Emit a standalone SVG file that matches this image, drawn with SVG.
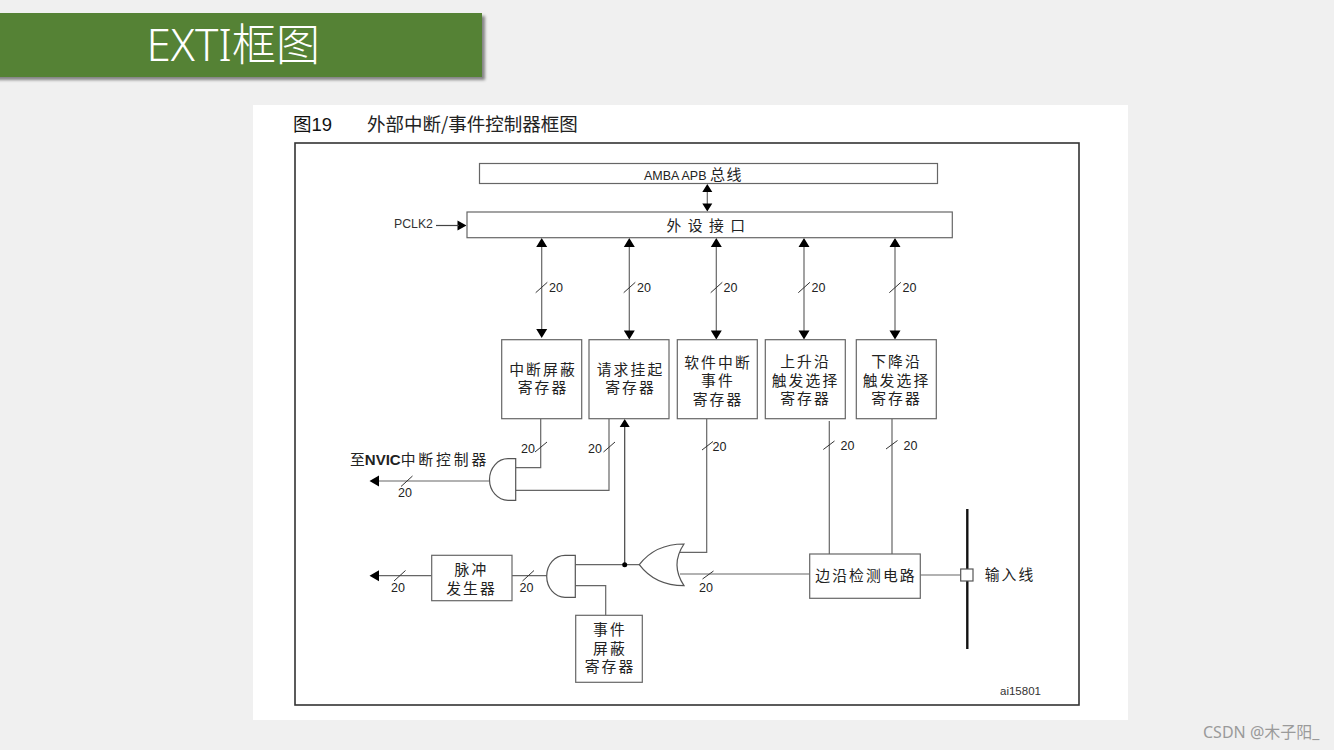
<svg xmlns="http://www.w3.org/2000/svg" width="1334" height="750" viewBox="0 0 1334 750">
<style>
.box{fill:#fff;stroke:#666;stroke-width:1.2}
.ln{fill:none;stroke:#666;stroke-width:1.2}
.dk{fill:none;stroke:#444;stroke-width:1.2}
.tick{fill:none;stroke:#333;stroke-width:1}
.gate{fill:#fff;stroke:#555;stroke-width:1.2}
.ar{fill:#000;stroke:none}
text{font-family:"Liberation Sans","Noto Sans CJK SC",sans-serif;fill:#222}
.cn{font-family:"Noto Sans CJK SC",sans-serif;font-size:14.8px;letter-spacing:2.1px;text-anchor:middle;fill:#222}
.n{font-size:12.5px;fill:#333}
</style>
<defs>
<filter id="sh" x="-5%" y="-20%" width="110%" height="140%"><feDropShadow dx="3" dy="3" stdDeviation="1.8" flood-color="#000" flood-opacity="0.45"/></filter>
</defs>
<rect width="1334" height="750" fill="#f0f0f0"/>
<g id="title">
<rect x="-6" y="13" width="488" height="64" fill="#548235" filter="url(#sh)"/>
<text x="146.500" y="61" style="font-family:'Noto Sans','Noto Sans CJK SC',sans-serif;font-size:44px;font-weight:300;fill:#fff">EXTI框图</text>
</g>
<rect x="253" y="105" width="875" height="615" fill="#fff"/>
<g id="caption">
<text x="293" y="131" style="font-size:18.500px;fill:#111"><tspan style="font-family:'Noto Sans CJK SC',sans-serif">图</tspan>19</text>
<text x="367" y="131" style="font-family:'Noto Sans CJK SC',sans-serif;font-size:18.500px;fill:#222">外部中断/事件控制器框图</text>
</g>
<rect id="frame" x="295" y="143" width="784" height="562" fill="none" stroke="#333" stroke-width="1.6"/>

<g id="connectors">
<path class="ln" d="M707.3 190V205M541.7 246V332M629.3 246V332M716.3 246V332M804 246V332M895 246V332"/>
<path class="ar" d="M707.3 184l5 8h-10zM707.3 211.500l5 -8h-10zM466.500 225.500l-9 -5v10z"/>
<path class="dk" d="M436 225.500H459"/>
<path class="ar" d="M541.700 238l5.500 9h-11zM629.300 238l5.500 9h-11zM716.300 238l5.500 9h-11zM804 238l5.500 9h-11zM895 238l5.500 9h-11z"/>
<path class="ar" d="M541.700 338l-5.500 -9h11zM629.300 339.500l-5.500 -9h11zM716.300 339.500l-5.500 -9h11zM804 339.500l-5.500 -9h11zM895 339.500l-5.500 -9h11z"/>
<path class="ln" d="M540.700 418.700V467.700H516M609 418.700V490.300H516M490 481H378M431.700 575.700H378M512 575.700H547M575.300 564.700H640M575.300 585.700H605.700V615.300M678 552.300H706.700V418.700M680 574H809.700M829.300 421V554M892 419V554M920.300 575H960.300"/>
<path class="dk" d="M624.700 426V564.700"/>
<path class="ar" d="M624.700 419l5 8h-10zM369.500 481l9.500 -5.500v11zM369.500 575.700l9.500 -5.500v11z"/>
<circle class="ar" cx="624.700" cy="564.700" r="2.500"/>
<path d="M967.300 509V649" stroke="#111" stroke-width="2.400" fill="none"/>
<path class="tick" d="M535.700 292.700L547.300 282.300M623.700 292.700L635.300 282.300M710.700 292.700L722.300 282.300M798.300 292.700L809.900 282.300M889.300 292.700L900.900 282.300M535 452L547 442M603.500 452L615 442M702 450L713 441.500M823.300 449.500L834.500 441M886 449L897.500 440.500M401 486.500L412.500 476M394 581L405.500 570.500M522.500 581L534 570.500M702.500 579L713.500 571"/>
<g class="n">
<text x="549" y="291.500">20</text><text x="637" y="291.500">20</text><text x="723.500" y="292">20</text><text x="811.500" y="292">20</text><text x="902.500" y="292">20</text>
<text x="521" y="452.500">20</text><text x="588" y="453">20</text><text x="712.500" y="451">20</text><text x="840.500" y="450">20</text><text x="903.500" y="449.500">20</text>
<text x="398" y="497">20</text><text x="391" y="592">20</text><text x="519.500" y="592">20</text><text x="699" y="592">20</text>
</g>
</g>

<g id="amba-bus"><rect class="box" x="479.500" y="163.500" width="458" height="20"/><text x="644" y="179.500" style="font-size:12.500px;fill:#222">AMBA APB <tspan style="font-family:'Noto Sans CJK SC',sans-serif;font-size:15px;letter-spacing:1.500px">总线</tspan></text></g>
<g id="peripheral-if"><rect class="box" x="467" y="212" width="485.300" height="25.700"/><text class="cn" x="709" y="231" style="letter-spacing:6.500px">外设接口</text></g>
<g id="pclk2"><text x="394" y="228" style="font-size:12.300px;fill:#333">PCLK2</text></g>

<g id="reg-int-mask"><rect class="box" x="501.700" y="339.700" width="80" height="79"/><text class="cn" x="543" y="375">中断屏蔽</text><text class="cn" x="543" y="393">寄存器</text></g>
<g id="reg-pending"><rect class="box" x="589" y="339.700" width="80" height="79"/><text class="cn" x="630.500" y="375">请求挂起</text><text class="cn" x="630.500" y="393">寄存器</text></g>
<g id="reg-sw-event"><rect class="box" x="677.300" y="339.700" width="80" height="79"/><text class="cn" x="718" y="368">软件中断</text><text class="cn" x="718" y="386">事件</text><text class="cn" x="718" y="405">寄存器</text></g>
<g id="reg-rising"><rect class="box" x="765.300" y="339.700" width="80" height="79"/><text class="cn" x="805.500" y="367">上升沿</text><text class="cn" x="805.500" y="386">触发选择</text><text class="cn" x="805.500" y="404">寄存器</text></g>
<g id="reg-falling"><rect class="box" x="856.300" y="339.700" width="80" height="79"/><text class="cn" x="896.500" y="367">下降沿</text><text class="cn" x="896.500" y="386">触发选择</text><text class="cn" x="896.500" y="404">寄存器</text></g>

<g id="to-nvic"><text x="350" y="465" style="font-size:15px;font-weight:bold;fill:#222"><tspan style="font-family:'Noto Sans CJK SC',sans-serif;font-weight:400;font-size:14.800px">至</tspan>NVIC<tspan style="font-family:'Noto Sans CJK SC',sans-serif;font-weight:400;font-size:14.800px;letter-spacing:2.900px">中断控制器</tspan></text></g>
<g id="and-top"><path class="gate" d="M515.700 458.700H508A18.500 20.800 0 0 0 508 500.300H515.700Z"/></g>
<g id="and-bottom"><path class="gate" d="M575.300 555.300H565A18.300 21 0 0 0 565 597.300H575.300Z"/></g>
<g id="or-gate"><path class="gate" d="M684 544Q655 544 639.300 564.700Q655 585.700 684 585.700Q670 564.700 684 544Z"/></g>
<g id="pulse-gen"><rect class="box" x="431.700" y="555.300" width="80.300" height="45.400"/><text class="cn" x="471.500" y="574.500">脉冲</text><text class="cn" x="471.500" y="594">发生器</text></g>
<g id="event-mask"><rect class="box" x="575.700" y="615.300" width="66.600" height="67"/><text class="cn" x="610" y="635">事件</text><text class="cn" x="610" y="653.500">屏蔽</text><text class="cn" x="610" y="672">寄存器</text></g>
<g id="edge-detect"><rect class="box" x="809.700" y="554" width="110.600" height="44.300"/><text class="cn" x="866" y="580.500">边沿检测电路</text></g>
<g id="input-line"><rect x="960.700" y="569" width="12.300" height="12" fill="#fff" stroke="#555" stroke-width="1.200"/><text class="cn" x="1010" y="580">输入线</text></g>
<g id="ref-code"><text x="1000" y="695" style="font-size:11.500px;fill:#333">ai15801</text></g>
<g id="watermark"><text x="1203" y="738" style="font-family:'Noto Sans','Noto Sans CJK SC',sans-serif;font-size:16px;fill:#9a9a9a">CSDN @木子阳_</text></g>
</svg>
